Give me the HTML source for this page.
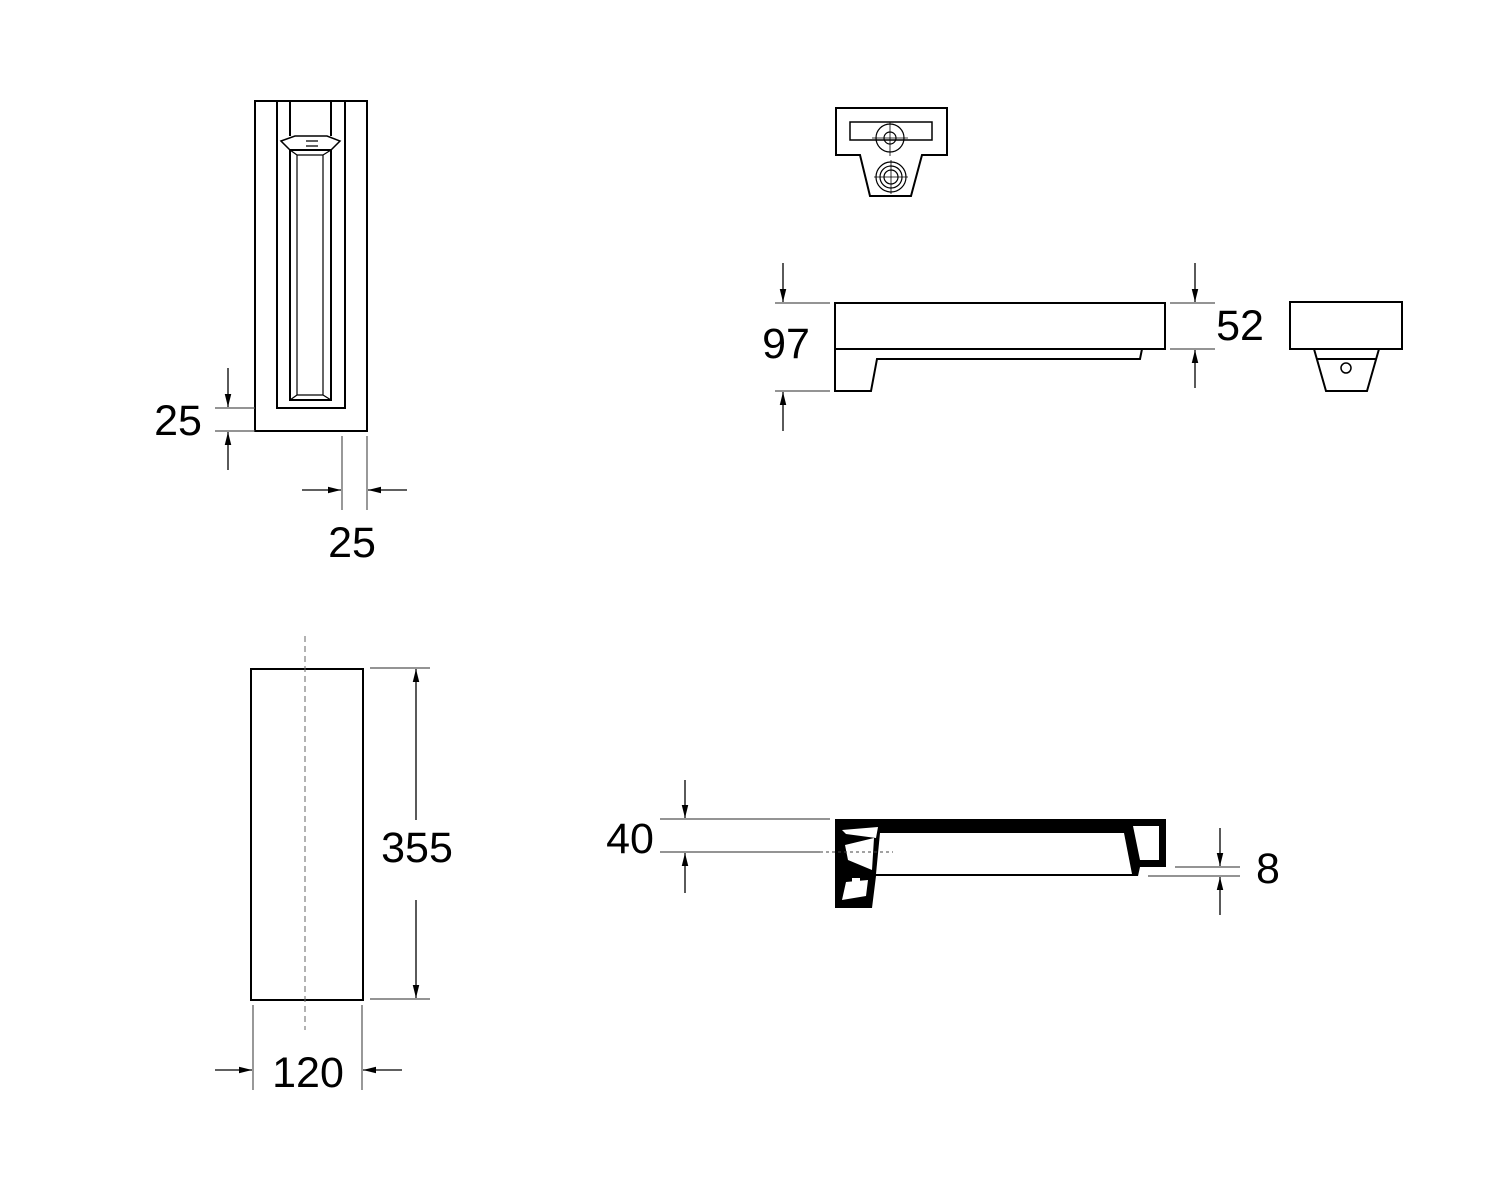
<!DOCTYPE html>
<html><head><meta charset="utf-8"><style>body{margin:0;background:#fff}svg{display:block}</style></head><body>
<svg width="1500" height="1196" viewBox="0 0 1500 1196" xmlns="http://www.w3.org/2000/svg" font-family="Liberation Sans, sans-serif">
<defs><marker id="a" viewBox="0 0 10 10" refX="10" refY="5" markerWidth="10" markerHeight="10" orient="auto"><path d="M0,2.5 L10,5 L0,7.5z" fill="#000"/></marker></defs>
<g fill="none" stroke="#000" stroke-width="2">
<rect x="255" y="101" width="112" height="330"/>
<path d="M277,101 V408 H345 V101"/>
<path d="M290,101 V136 M331,101 V136"/>
<path d="M281,141 L295,136 H327 L340,141 L331,150 H290 Z" stroke-width="1.5"/>
<rect x="290" y="150" width="41" height="250"/>
<path d="M297,155 V395 H323 V155 Z M290,150 L297,155 M331,150 L323,155 M290,400 L297,395 M331,400 L323,395" stroke-width="1.2"/>
<path d="M306,141 h12 M306,146 h12" stroke-width="1.2"/>
<path d="M836,108 H947 V155 H922 L911,196 H870 L860,155 H836 Z"/>
<path d="M850,122 H932 V140 H850 Z" stroke-width="1.5"/>
<circle cx="890" cy="138" r="14" stroke-width="1.2"/><circle cx="890" cy="138" r="6" stroke-width="1.2"/>
<circle cx="891" cy="177" r="15" stroke-width="1.2"/><circle cx="891" cy="177" r="11" stroke-width="1.2"/><circle cx="891" cy="177" r="7" stroke-width="1.2"/>
<path d="M872,138 h36 M890,122 v34 M874,177 h34 M891,160 v34" stroke-width="0.8"/>
<rect x="835" y="303" width="330" height="46"/>
<path d="M835,349 V391 H871 L877,359 H1140 L1142,349"/>
<rect x="1290" y="302" width="112" height="47"/>
<path d="M1314,349 L1326,391 H1367 L1379,349 M1317,359 H1376"/>
<circle cx="1346" cy="368" r="5" stroke-width="1.5"/>
<rect x="251" y="669" width="112" height="331"/>
</g>
<line x1="305" y1="636" x2="305" y2="1030" stroke="#666" stroke-width="1" stroke-dasharray="6,4"/>
<path d="M835,819 H1166 V867 H1140 L1138,876 H876 L872,908 H835 Z" fill="#000"/>
<path d="M880,833 H1124 L1132,874 H876 Z" fill="#fff"/>
<path d="M1133,826 H1159 V860 H1140 Z" fill="#fff"/>
<path d="M842,830 L878,827 L876,838 L846,834 Z M845,845 L874,838 L872,870 L848,860 Z M842,900 L866,896 L868,880 L846,882 Z" fill="#fff"/>
<rect x="852" y="878" width="8" height="8" fill="#fff"/><rect x="852" y="888" width="8" height="8" fill="#fff"/>
<line x1="820" y1="852" x2="893" y2="852" stroke="#444" stroke-width="1" stroke-dasharray="3,3"/>
<g stroke="#555" stroke-width="1.2" fill="none">
<path d="M215,408 H255 M215,431 H255 M342,436 V510 M367,436 V510"/>
<path d="M775,303 H830 M775,391 H830 M1170,303 H1215 M1170,349 H1215"/>
<path d="M370,668 H430 M370,999 H430 M253,1005 V1090 M362,1005 V1090"/>
<path d="M660,819 H830 M660,852 H820 M1175,867 H1240 M1148,876 H1240"/>
</g>
<g stroke="#000" stroke-width="1.3" marker-end="url(#a)">
<line x1="228" y1="368" x2="228" y2="407"/><line x1="228" y1="470" x2="228" y2="432"/>
<line x1="302" y1="490" x2="341" y2="490"/><line x1="407" y1="490" x2="368" y2="490"/>
<line x1="783" y1="263" x2="783" y2="302"/><line x1="783" y1="431" x2="783" y2="392"/>
<line x1="1195" y1="263" x2="1195" y2="302"/><line x1="1195" y1="388" x2="1195" y2="350"/>
<line x1="416" y1="820" x2="416" y2="669"/><line x1="416" y1="900" x2="416" y2="998"/>
<line x1="215" y1="1070" x2="252" y2="1070"/><line x1="402" y1="1070" x2="363" y2="1070"/>
<line x1="685" y1="780" x2="685" y2="818"/><line x1="685" y1="893" x2="685" y2="853"/>
<line x1="1220" y1="828" x2="1220" y2="866"/><line x1="1220" y1="915" x2="1220" y2="877"/>
</g>
<g font-size="43" fill="#000" text-anchor="middle">
<text x="178" y="435">25</text>
<text x="352" y="557">25</text>
<text x="786" y="358">97</text>
<text x="1240" y="340">52</text>
<text x="417" y="862">355</text>
<text x="308" y="1087">120</text>
<text x="630" y="853">40</text>
<text x="1268" y="883">8</text>
</g>
</svg>
</body></html>
